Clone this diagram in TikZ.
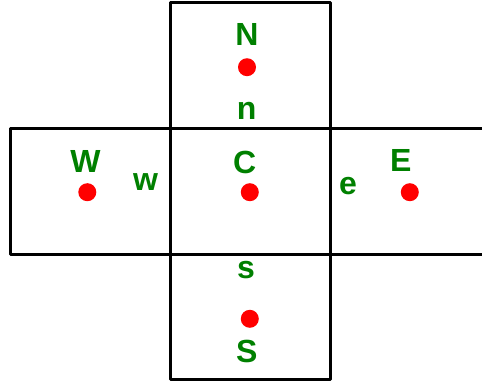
\documentclass[tikz,border=0pt]{standalone}
\usepackage{fontspec}
\setmainfont{Liberation Sans}
\definecolor{lblgreen}{RGB}{0,128,0}
\begin{document}
\begin{tikzpicture}[x=1pt,y=-1pt,
  cell/.style={draw=black,line width=3.2pt,line join=round},
  pt/.style={circle,fill=red,draw=none,minimum size=18pt,inner sep=0pt},
  lbl/.style={text=lblgreen,font=\fontsize{32}{32}\selectfont\bfseries,inner sep=0pt}]
\useasboundingbox (0,0) rectangle (482,383);
% cells
\draw[cell] (170.5,128.5) rectangle (330.5,2.5);
\draw[cell] (170.5,254.5) rectangle (330.5,379.5);
\draw[cell] (10.3,128.5) rectangle (170.5,254.5);
\draw[cell] (170.5,128.5) rectangle (330.5,254.5);
\draw[cell] (490,128.5) -- (330.5,128.5) -- (330.5,254.5) -- (490,254.5);
% points
\node[pt] (pN) at (247,67.2) {};
\node[pt] (pC) at (249.8,192.2) {};
\node[pt] (pW) at (87.3,192.2) {};
\node[pt] (pE) at (409.8,192.2) {};
\node[pt] (pS) at (249.8,318.8) {};
% labels
\node[lbl] (lN) at (247,34) {N};
\node[lbl] (ln) at (246.7,110.5) {n};
\node[lbl] (lW) at (85.5,161.3) {W};
\node[lbl] (lw) at (145.5,182.5) {w};
\node[lbl] (lC) at (244.7,162.8) {C};
\node[lbl] (le) at (348,186.3) {e};
\node[lbl] (lE) at (400.8,160.3) {E};
\node[lbl] (ls) at (246,270) {s};
\node[lbl] (lS) at (246.7,351) {S};
\end{tikzpicture}
\end{document}
